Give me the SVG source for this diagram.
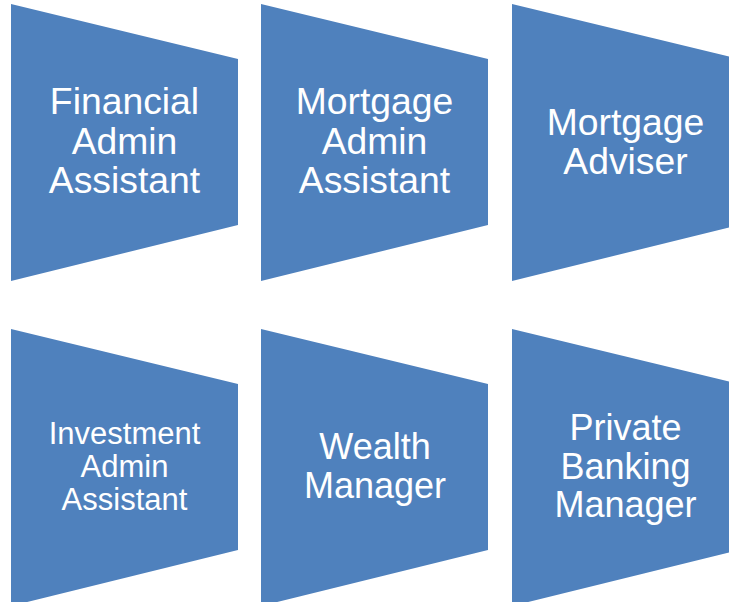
<svg xmlns="http://www.w3.org/2000/svg" width="729" height="602" viewBox="0 0 729 602">
<style>
.shape{fill:#4F81BD;}
.t{fill:#FFFFFF;font-family:"Liberation Sans",Arial,sans-serif;text-anchor:middle;}
.l{font-size:37.3px;}
.m{font-size:36px;}
.s{font-size:31px;}
</style>
<defs>
<polygon id="trap" class="shape" points="0,0 227,55 227,221 0,277"/>
</defs>
<rect width="729" height="602" fill="#FFFFFF"/>
<g id="node-financial-admin-assistant">
<use href="#trap" x="11" y="4"/>
<text class="t l" x="124.5"><tspan x="124.5" y="114">Financial</tspan><tspan x="124.5" y="154">Admin</tspan><tspan x="124.5" y="193">Assistant</tspan></text>
</g>
<g id="node-mortgage-admin-assistant">
<use href="#trap" x="261" y="4"/>
<text class="t l" x="374.5"><tspan x="374.5" y="114">Mortgage</tspan><tspan x="374.5" y="154">Admin</tspan><tspan x="374.5" y="193">Assistant</tspan></text>
</g>
<g id="node-mortgage-adviser">
<use href="#trap" x="512" y="4"/>
<text class="t l" x="625.5"><tspan x="625.5" y="135">Mortgage</tspan><tspan x="625.5" y="174">Adviser</tspan></text>
</g>
<g id="node-investment-admin-assistant">
<use href="#trap" x="11" y="329"/>
<text class="t s" x="124.5"><tspan x="124.5" y="444">Investment</tspan><tspan x="124.5" y="477">Admin</tspan><tspan x="124.5" y="510">Assistant</tspan></text>
</g>
<g id="node-wealth-manager">
<use href="#trap" x="261" y="329"/>
<text class="t m" x="375"><tspan x="375" y="459">Wealth</tspan><tspan x="375" y="498">Manager</tspan></text>
</g>
<g id="node-private-banking-manager">
<use href="#trap" x="512" y="329"/>
<text class="t m" x="625.5"><tspan x="625.5" y="440">Private</tspan><tspan x="625.5" y="479">Banking</tspan><tspan x="625.5" y="517">Manager</tspan></text>
</g>
<g id="connectors"/>
</svg>
